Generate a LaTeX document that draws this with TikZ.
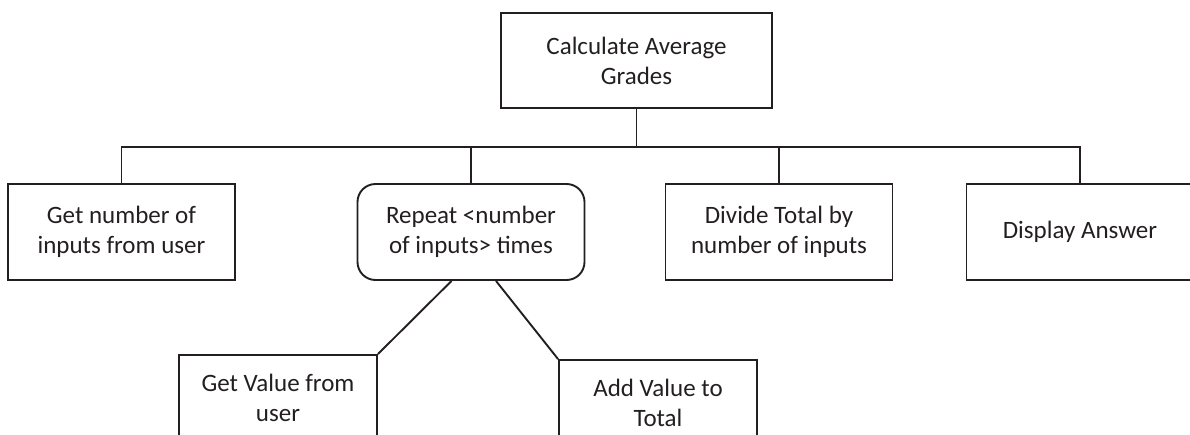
\documentclass[tikz,border=0pt]{standalone}
\usepackage{fontspec}
\setmainfont{Carlito}
\definecolor{ink}{HTML}{231F20}
\tikzset{
  x=1pt, y=-1pt,
  box/.style={draw=ink, line width=1.9pt, text=ink, align=center,
    minimum width=227pt, minimum height=96pt, inner sep=0pt,
    font=\fontsize{25}{30}\selectfont},
  roundbox/.style={box, rounded corners=18pt},
  link/.style={draw=ink, line width=1.9pt},
}
\begin{document}
\begin{tikzpicture}
\useasboundingbox (0,0) rectangle (1190,434);
\clip (0,0) rectangle (1190,434);

% root
\node[box, minimum width=271pt, minimum height=95pt] (root) at (636.5,60.5) {Calculate Average\\Grades};

% first level
\node[box]      (getn) at (121.5,232) {Get number of\\inputs from user};
\node[roundbox] (rep)  at (471,232)   {Repeat <number\\of inputs> times};
\node[box]      (div)  at (779,232)   {Divide Total by\\number of inputs};
\node[box]      (disp) at (1080,232)  {Display Answer};

% second level (under the loop)
\node[box, minimum width=198pt, minimum height=86pt] (getv) at (278,398) {Get Value from\\user};
\node[box, minimum width=198pt, minimum height=86pt] (addv) at (658,403) {Add Value to\\Total};

% bus line joining the first level
\coordinate (bus) at (0,147);
\draw[link] (root.south) -- (root.south |- bus);
\draw[link] (getn.north) -- (getn.north |- bus) -| (disp.north);
\draw[link] (rep.north) -- (rep.north |- bus);
\draw[link] (div.north) -- (div.north |- bus);

% loop body
\draw[link] ([xshift=-19.5pt]rep.south) -- (getv.north east);
\draw[link] ([xshift=25pt]rep.south) -- (addv.north west);
\end{tikzpicture}
\end{document}
